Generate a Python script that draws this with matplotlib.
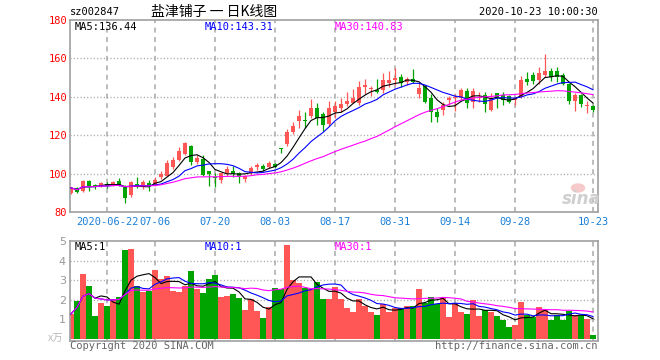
import numpy as np
import pandas as pd
import matplotlib
matplotlib.use("Agg")
import matplotlib.pyplot as plt
from matplotlib.patches import Ellipse

plt.rcParams['lines.scale_dashes'] = False

code = "sz002847"
title = "盐津铺子 一 日K线图"
stamp = "2020-10-23 10:00:30"

# daily OHLC, 2020-06-12 .. 2020-10-23
opens = [89.8, 92.4, 91.0, 96.2, 94.0, 93.6, 94.8, 94.0, 96.3, 93.3,
         89.0, 94.6, 93.8, 95.2, 94.0, 98.2, 99.0, 103.3, 107.1, 110.2,
         114.4, 106.2, 107.4, 101.3, 98.2, 96.7, 100.1, 101.5, 100.1, 97.0,
         100.1, 103.2, 104.0, 103.6, 105.0, 113.4, 115.4, 121.5, 127.6, 128.0,
         130.2, 134.3, 131.0, 125.8, 131.9, 134.3, 136.2, 137.0, 136.6, 145.3,
         143.9, 143.5, 143.5, 147.4, 148.7, 150.3, 147.5, 149.3, 141.5, 145.6,
         139.5, 131.9, 133.1, 138.3, 139.3, 139.2, 143.0, 137.5, 139.2, 140.9,
         133.1, 141.8, 141.0, 140.6, 138.5, 140.1, 149.3, 151.4, 148.7, 151.4,
         153.4, 153.4, 151.4, 146.5, 137.8, 140.9, 135.4, 135.0]
highs = [93.0, 92.8, 96.6, 96.5, 94.6, 95.5, 95.6, 96.3, 97.6, 94.0,
         96.0, 98.0, 96.6, 96.6, 98.4, 101.5, 107.0, 108.8, 114.0, 116.6,
         115.0, 109.7, 109.7, 101.6, 100.2, 100.5, 104.0, 104.0, 100.8, 99.5,
         104.0, 105.3, 105.0, 106.7, 105.7, 113.5, 123.0, 127.0, 133.1, 132.3,
         138.9, 136.6, 131.9, 137.8, 137.8, 139.5, 142.3, 144.1, 148.4, 149.3,
         145.8, 149.3, 152.2, 153.4, 154.8, 151.9, 150.5, 154.5, 147.0, 146.0,
         141.3, 134.0, 137.5, 140.6, 141.3, 144.4, 144.4, 144.4, 142.7, 142.3,
         141.8, 142.0, 142.3, 141.0, 140.1, 151.0, 152.7, 153.1, 155.7, 162.3,
         155.2, 155.7, 152.5, 147.0, 141.8, 141.3, 137.8, 135.8]
lows = [89.2, 90.0, 90.5, 90.9, 92.0, 93.0, 92.4, 93.5, 93.3, 84.8,
        87.6, 92.3, 91.8, 91.1, 93.5, 97.0, 98.5, 102.5, 106.5, 109.5,
        104.5, 105.0, 98.7, 93.4, 93.2, 95.3, 99.0, 98.0, 95.3, 95.8,
        99.5, 101.9, 101.5, 102.7, 102.7, 110.9, 114.5, 120.5, 123.6, 124.0,
        128.8, 125.3, 122.2, 125.0, 129.1, 132.3, 135.4, 136.6, 135.5, 141.3,
        140.6, 141.8, 142.0, 145.3, 146.1, 145.3, 146.0, 147.0, 139.5, 137.0,
        127.0, 127.0, 130.5, 135.7, 132.6, 138.3, 134.0, 134.3, 137.5, 132.3,
        132.5, 134.3, 135.7, 136.6, 135.7, 139.5, 146.2, 146.5, 146.5, 150.5,
        148.2, 147.9, 146.0, 136.1, 132.6, 134.9, 131.4, 132.3]
closes = [92.6, 90.6, 96.2, 93.2, 93.6, 94.9, 93.6, 95.8, 94.1, 87.4,
          95.6, 93.8, 95.4, 93.4, 96.6, 100.0, 105.7, 107.1, 111.8, 116.1,
          106.2, 107.9, 99.3, 99.6, 97.8, 100.1, 102.4, 100.1, 98.0, 98.9,
          102.7, 104.5, 102.2, 105.3, 103.6, 113.0, 121.5, 124.9, 130.0, 127.6,
          134.3, 128.8, 125.3, 134.0, 135.4, 136.1, 137.8, 139.2, 145.3, 146.1,
          144.8, 142.7, 148.7, 148.7, 150.0, 147.0, 149.3, 147.9, 144.8, 137.5,
          132.3, 129.7, 135.7, 139.5, 139.6, 143.5, 136.6, 143.0, 140.0, 136.1,
          139.5, 139.6, 138.5, 137.5, 139.2, 148.7, 147.5, 148.4, 152.2, 153.4,
          150.5, 150.5, 146.5, 137.8, 141.0, 136.1, 135.6, 133.2]
# volume, x10k shares
volumes = [1.28, 1.95, 3.32, 2.70, 1.17, 1.84, 1.68, 2.02, 2.16, 4.54,
           4.59, 2.70, 2.39, 2.46, 3.52, 3.06, 3.21, 2.46, 2.39, 2.70,
           3.46, 2.55, 2.35, 3.06, 3.25, 2.15, 2.20, 2.30, 2.10, 1.48,
           2.02, 1.43, 1.07, 1.62, 2.61, 2.55, 4.80, 3.01, 2.86, 2.61,
           2.55, 2.90, 2.04, 2.04, 2.67, 2.04, 1.60, 1.35, 2.04, 1.68,
           1.35, 1.24, 1.80, 1.39, 1.56, 1.56, 1.68, 1.68, 2.55, 1.82,
           2.16, 1.78, 2.07, 1.14, 1.82, 1.39, 1.27, 1.99, 1.17, 1.48,
           1.39, 1.17, 0.97, 0.63, 0.72, 1.89, 1.24, 1.12, 1.62, 1.48,
           0.97, 1.24, 0.97, 1.45, 1.24, 1.24, 1.02, 0.20]

date_pos = [6, 14, 24, 34, 44, 54, 64, 74, 87]
date_labels = ['2020-06-22', '07-06', '07-20', '08-03', '08-17',
               '08-31', '09-14', '09-28', '10-23']
price_ticks = [80, 100, 120, 140, 160, 180]
vol_ticks = [1, 2, 3, 4, 5]
ma_labels = ['MA5:136.44', 'MA10:143.31', 'MA30:140.83']
vol_ma_labels = ['MA5:1', 'MA10:1', 'MA30:1']

UP = '#ff5656'
DOWN = '#00a400'
FRAME = '#a0a0a0'
MA_COLORS = ['black', '#0000ff', '#ff00ff']
MONO = 'DejaVu Sans Mono'
CJK = ['Noto Sans CJK SC', 'DejaVu Sans']

W, H = 660, 360


def fx(px):
    return px / W


def fy(py):
    return 1 - py / H


o = np.array(opens)
h = np.array(highs)
l = np.array(lows)
c = np.array(closes)
v = np.array(volumes)
x = np.arange(len(c))
up = c >= o
cols = np.where(up, UP, DOWN)

fig = plt.figure(figsize=(6.6, 3.6), dpi=100)
fig.patch.set_facecolor('white')

ax = fig.add_axes([fx(70), fy(212), fx(528), 192 / H])
axv = fig.add_axes([fx(70), fy(340.7), fx(528), 99.7 / H])

for a in (ax, axv):
    a.set_xlim(-0.17, 87.83)
    for s in a.spines.values():
        s.set_color(FRAME)
        s.set_linewidth(1.2)
    for p in date_pos:
        a.axvline(p, color='#aaaaaa', lw=1.1, dashes=(3.6, 3.2), zorder=0)

ax.set_ylim(80, 180)
for t in price_ticks[1:-1]:
    ax.axhline(t, color='#a8a8a8', lw=1.0, dashes=(0.8, 1.6), zorder=0)

# candles
ax.vlines(x, l, h, colors=cols, lw=0.9, zorder=2)
body = np.maximum(np.abs(c - o), 0.5)
ax.bar(x, body, bottom=np.minimum(o, c), width=0.78, color=cols,
       linewidth=0, zorder=2)

cs = pd.Series(c)
for n, col in zip([5, 10, 30], MA_COLORS):
    ax.plot(x, cs.rolling(n, min_periods=1).mean(), color=col, lw=0.8, zorder=3)

ax.set_yticks(price_ticks)
ax.set_yticklabels([str(t) for t in price_ticks], family=MONO, fontsize=7.5,
                   color='red')
ax.set_xticks(date_pos)
ax.set_xticklabels(date_labels, family=MONO, fontsize=7.5, color='#1a7ed6')
ax.tick_params(axis='y', length=0, pad=2)
ax.tick_params(axis='x', length=0, pad=3.5)

for lab, col, px in zip(ma_labels, MA_COLORS, [75, 205, 335]):
    fig.text(fx(px), fy(26.5), lab, color=col, family=MONO, fontsize=7.5,
             va='center', ha='left')

# volume
axv.set_ylim(-0.09, 5.0)
for t in vol_ticks[:-1]:
    axv.axhline(t, color='#a8a8a8', lw=1.0, dashes=(0.8, 1.6), zorder=0)
axv.bar(x, v, width=0.85, color=cols, linewidth=0, zorder=2)
vs = pd.Series(v)
for n, col in zip([5, 10, 30], MA_COLORS):
    axv.plot(x, vs.rolling(n, min_periods=1).mean(), color=col, lw=0.8, zorder=3)
axv.set_yticks(vol_ticks)
axv.set_yticklabels([str(t) for t in vol_ticks], fontsize=8, color='#999999')
axv.set_xticks([])
axv.tick_params(axis='y', length=0, pad=3)

for lab, col, px in zip(vol_ma_labels, MA_COLORS, [75, 205, 335]):
    fig.text(fx(px), fy(246.5), lab, color=col, family=MONO, fontsize=7.5,
             va='center', ha='left')

# header
fig.text(fx(70), fy(12), code, family=MONO, fontsize=7.5, va='center')
fig.text(fx(214), fy(12), title, family=CJK, fontsize=10, va='center',
         ha='center')
fig.text(fx(598), fy(12), stamp, family=MONO, fontsize=7.5, va='center',
         ha='right')

# footer
fig.text(fx(56), fy(339), 'x万', family=CJK, fontsize=7.5, style='italic',
         color='#bbbbbb', va='center', ha='center')
fig.text(fx(70), fy(346), 'Copyright 2020 SINA.COM', family=MONO, fontsize=7.5,
         color='#666666', va='center')
fig.text(fx(598), fy(346), 'http://finance.sina.com.cn', family=MONO,
         fontsize=7.5, color='#666666', va='center', ha='right')

# sina watermark
fig.add_artist(Ellipse((fx(578), fy(188)), 13 / W, 8 / H, color='#f6caca'))
fig.text(fx(581), fy(199), 'sina', fontsize=12, style='italic', weight='bold',
         color='#cfcfcf', va='center', ha='center')

fig.savefig('out.png', dpi=100)
